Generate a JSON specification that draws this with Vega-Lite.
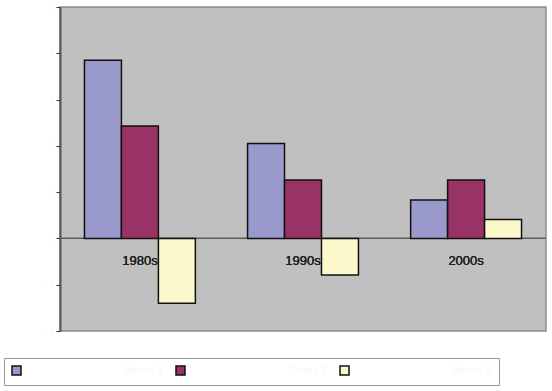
{
  "$schema": "https://vega.github.io/schema/vega-lite/v6.json",
  "width": 486,
  "height": 324,
  "autosize": {"type": "none"},
  "padding": {"left": 60, "top": 7, "right": 6, "bottom": 60},
  "background": "white",
  "data": {
    "values": [
      {"decade": "1980s", "series": "Series 1", "value": 3.85},
      {"decade": "1980s", "series": "Series 2", "value": 2.43},
      {"decade": "1980s", "series": "Series 3", "value": -1.4},
      {"decade": "1990s", "series": "Series 1", "value": 2.05},
      {"decade": "1990s", "series": "Series 2", "value": 1.26},
      {"decade": "1990s", "series": "Series 3", "value": -0.79},
      {"decade": "2000s", "series": "Series 1", "value": 0.83},
      {"decade": "2000s", "series": "Series 2", "value": 1.26},
      {"decade": "2000s", "series": "Series 3", "value": 0.41}
    ]
  },
  "layer": [
    {
      "mark": {"type": "rule", "color": "#5a5a5a", "strokeWidth": 1},
      "encoding": {"y": {"datum": 0, "type": "quantitative"}}
    },
    {
      "mark": {"type": "bar", "stroke": "#111111", "strokeWidth": 1.5},
      "encoding": {
        "x": {
          "field": "decade",
          "type": "nominal",
          "scale": {"paddingInner": 0.32, "paddingOuter": 0.15},
          "axis": null
        },
        "xOffset": {
          "field": "series",
          "type": "nominal",
          "scale": {"paddingInner": 0, "paddingOuter": 0}
        },
        "y": {
          "field": "value",
          "type": "quantitative",
          "scale": {"domain": [-2, 5], "nice": false, "zero": true},
          "axis": {
            "title": null,
            "values": [-2, -1, 0, 1, 2, 3, 4, 5],
            "grid": false,
            "domainColor": "#555555",
            "domainWidth": 2,
            "tickColor": "#333333",
            "tickSize": 4,
            "labelColor": "#fafafa",
            "labelFontSize": 9
          }
        },
        "color": {
          "field": "series",
          "type": "nominal",
          "scale": {"range": ["#9999cc", "#993366", "#fcf8cc"]},
          "legend": {
            "title": null,
            "orient": "none",
            "legendX": -56,
            "legendY": 351,
            "direction": "horizontal",
            "columns": 3,
            "gridAlign": "all",
            "symbolType": "square",
            "symbolSize": 81,
            "symbolStrokeColor": "#111111",
            "symbolStrokeWidth": 1.5,
            "fillColor": "white",
            "strokeColor": "#999999",
            "padding": 7,
            "labelColor": "#f8f8f8",
            "labelFontSize": 11,
            "labelOffset": 101,
            "columnPadding": 9
          }
        }
      }
    },
    {
      "mark": {"type": "text", "fontSize": 13, "fontWeight": "normal", "font": "Liberation Sans", "color": "#222222", "dy": 23, "baseline": "middle"},
      "encoding": {
        "x": {"field": "decade", "type": "nominal"},
        "y": {"datum": 0, "type": "quantitative"},
        "text": {"field": "decade"}
      }
    }
  ],
  "config": {
    "view": {"fill": "#c0c0c0", "stroke": "#8a8a8a", "strokeWidth": 1.5},
    "font": "Liberation Sans"
  }
}
